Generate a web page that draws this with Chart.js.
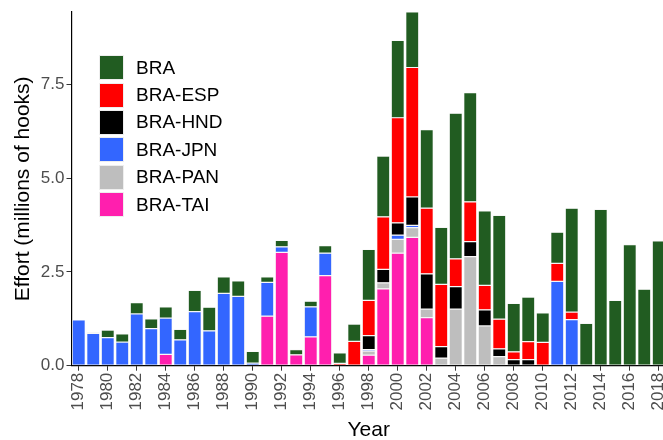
<!DOCTYPE html>
<html>
<head>
<meta charset="utf-8">
<script src="https://cdn.jsdelivr.net/npm/chart.js@4.4.1/dist/chart.umd.min.js"></script>
<style>
  html, body { margin: 0; padding: 0; overflow: hidden; background: #fff; }
  #wrap { position: absolute; left: 0; top: 0; width: 666px; height: 440px; }
  #legend { position: absolute; left: 99px; top: 54px; font-family: "Liberation Sans", Arial, sans-serif; font-size: 19px; color: #000; }
  .row { display: flex; align-items: center; height: 27.4px; }
  .key { width: 25px; height: 25px; box-sizing: border-box; border: 1px solid #eee; margin-right: 12px; }
</style>
</head>
<body>
<div id="wrap">
  <canvas id="c" width="666" height="440"></canvas>
  <div id="legend"></div>
</div>
<script>
"use strict";

const years = [];
for (let y = 1978; y <= 2018; y++) years.push(String(y));

// values in millions of hooks; null = no effort that year
//              1978 ...                                             1987
const TAI = [null, null, null, null, null, null, 0.30, null, null, null,
             null, null, null, 1.32, 3.02, 0.29, 0.77, 2.40, null, null,
             0.28, 2.05, 3.00, 3.42, 1.28, null, null, null, null, null,
             null, null, null, null, null, null, null, null, null, null, null];
const PAN = [null, null, null, null, null, null, null, null, null, null,
             null, null, null, null, null, null, null, null, null, null,
             0.11, 0.16, 0.37, 0.26, 0.23, 0.20, 1.51, 2.91, 1.06, 0.24,
             null, null, null, null, null, null, null, null, null, null, null];
const JPN = [1.22, 0.86, 0.75, 0.63, 1.38, 0.99, 0.97, 0.69, 1.44, 0.93,
             1.93, 1.85, 0.07, 0.90, 0.15, null, 0.80, 0.60, null, null,
             0.04, null, 0.11, 0.06, null, null, null, null, null, null,
             null, null, null, 2.25, 1.23, null, null, null, null, null, null];
const HND = [null, null, null, null, null, null, null, null, null, null,
             null, null, null, null, null, null, null, null, null, null,
             0.37, 0.36, 0.33, 0.76, 0.94, 0.31, 0.60, 0.40, 0.43, 0.21,
             0.16, 0.16, null, null, null, null, null, null, null, null, null];
const ESP = [null, null, null, null, null, null, null, null, null, null,
             null, null, null, null, null, null, null, null, 0.06, 0.65,
             0.94, 1.40, 2.80, 3.45, 1.75, 1.66, 0.74, 1.06, 0.65, 0.79,
             0.21, 0.48, 0.62, 0.48, 0.20, null, null, null, null, null, null];
const BRA = [null, 0.03, 0.20, 0.22, 0.30, 0.26, 0.30, 0.28, 0.57, 0.63,
             0.44, 0.41, 0.31, 0.15, 0.17, 0.14, 0.15, 0.20, 0.28, 0.46,
             1.36, 1.62, 2.06, 1.48, 2.09, 1.52, 3.88, 2.91, 1.99, 2.77,
             1.29, 1.19, 0.79, 0.83, 2.77, 1.13, 4.17, 1.74, 3.23, 2.04, 3.33];

const yTicks = [0, 2.5, 5, 7.5];

// stacked bottom-up; legend lists them top-down
const series = [
  { label: "BRA-TAI", data: TAI, color: "#FF1FAE" },
  { label: "BRA-PAN", data: PAN, color: "#BEBEBE" },
  { label: "BRA-JPN", data: JPN, color: "#3366FF" },
  { label: "BRA-HND", data: HND, color: "#000000" },
  { label: "BRA-ESP", data: ESP, color: "#FF0000" },
  { label: "BRA", data: BRA, color: "#215C21" },
];

const tickFont = { family: "'Liberation Sans', Arial, sans-serif", size: 17 };
const titleFont = { family: "'Liberation Sans', Arial, sans-serif", size: 21, lineHeight: 1.2 };

new Chart(document.getElementById("c"), {
  type: "bar",
  data: {
    labels: years,
    datasets: series.map((s) => ({
      label: s.label,
      data: s.data,
      backgroundColor: s.color,
      borderColor: "#f0f0f0",
      borderWidth: 0.6,
      borderSkipped: false,
      barPercentage: 0.9,
      categoryPercentage: 1.0,
    })),
  },
  options: {
    responsive: false,
    devicePixelRatio: 1,
    animation: false,
    layout: { padding: { top: 12, left: 0, right: 0, bottom: 0 } },
    plugins: { legend: { display: false }, tooltip: { enabled: false } },
    scales: {
      x: {
        stacked: true,
        offset: true,
        afterFit: (s) => { s.height = 74.3; s.paddingLeft = 0; s.paddingRight = 0; },
        grid: {
          offset: false, drawOnChartArea: false, drawTicks: true, tickLength: 5,
          tickColor: (ctx) => (ctx.index % 2 === 0 ? "#333" : "rgba(0,0,0,0)"),
        },
        border: { display: true, color: "#000", width: 1.2 },
        ticks: {
          autoSkip: false, minRotation: 90, maxRotation: 90, padding: 2,
          color: "#4d4d4d", font: tickFont,
          callback: (v, i) => (i % 2 === 0 ? years[i] : ""),
        },
        title: { display: true, text: "Year", color: "#000", font: { ...titleFont, lineHeight: 0.9 }, padding: { top: 0, bottom: 0 } },
      },
      y: {
        stacked: true,
        min: 0,
        max: 9.43,
        afterFit: (s) => { s.width = 71.5; s.paddingTop = 0; s.paddingBottom = 0; },
        afterBuildTicks: (s) => { s.ticks = yTicks.map((v) => ({ value: v })); },
        grid: { drawOnChartArea: false, drawTicks: true, tickLength: 5, color: "#333" },
        border: { display: true, color: "#000", width: 1.2 },
        ticks: { padding: 2, color: "#4d4d4d", font: tickFont, callback: (v) => Number(v).toFixed(1) },
        title: { display: true, text: "Effort (millions of hooks)", color: "#000", font: titleFont, padding: { top: 11, bottom: 0 } },
      },
    },
  },
});

// legend, top-down = reverse of the stack
const legend = document.getElementById("legend");
series.slice().reverse().forEach((s) => {
  const row = document.createElement("div");
  row.className = "row";
  row.innerHTML = `<span class="key" style="background:${s.color}"></span><span>${s.label}</span>`;
  legend.appendChild(row);
});
</script>
</body>
</html>
